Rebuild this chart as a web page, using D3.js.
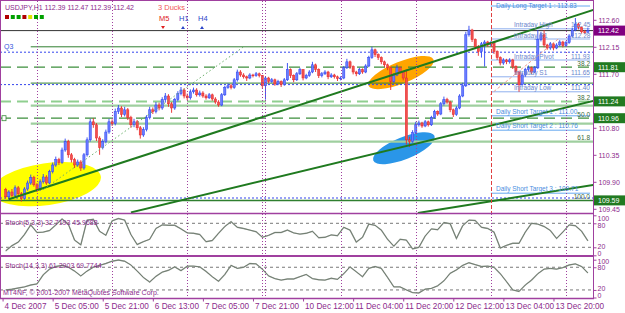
<!DOCTYPE html>
<html>
<head>
<meta charset="utf-8">
<script src="https://cdn.jsdelivr.net/npm/d3@7"></script>
<style>
  body { margin: 0; background: #fff; }
  svg { display: block; }
  text { font-family: "Liberation Sans", Arial, sans-serif; }
</style>
</head>
<body>
<svg id="chart" width="625" height="313"></svg>
<script>
// ---- bar data (USDJPY H1) ----
const opens = [
  109.77,109.65,109.73,109.67,109.80,109.70,109.62,109.78,109.88,109.97,
  109.85,109.77,109.90,109.98,109.88,110.07,110.18,110.27,110.22,110.43,
  110.57,110.35,110.27,110.18,110.23,110.13,110.35,110.60,110.90,110.85,
  110.63,110.47,110.57,110.73,110.90,110.87,111.07,111.13,111.02,111.10,
  110.97,110.85,110.90,110.80,110.68,110.77,110.97,111.10,111.07,111.18,
  111.13,111.27,111.33,111.20,111.13,111.27,111.37,111.43,111.33,111.30,
  111.40,111.43,111.35,111.38,111.33,111.30,111.35,111.28,111.23,111.18,
  111.35,111.47,111.50,111.47,111.60,111.73,111.68,111.65,111.63,111.68,
  111.67,111.70,111.67,111.50,111.63,111.57,111.60,111.53,111.57,111.52,
  111.60,111.77,111.67,111.60,111.70,111.77,111.63,111.67,111.73,111.85,
  111.77,111.67,111.70,111.73,111.65,111.68,111.65,111.62,111.63,111.80,
  111.90,111.82,111.73,111.70,111.77,111.73,111.83,111.97,112.10,112.02,
  111.97,111.90,111.85,111.80,111.57,111.68,111.80,111.73,111.63,110.60,
  110.57,110.72,110.85,110.88,110.83,110.90,110.85,110.97,111.07,111.03,
  111.20,111.27,111.23,111.10,111.02,111.13,111.33,111.50,112.35,112.43,
  112.27,112.15,112.07,112.20,112.23,112.18,112.22,112.07,111.97,111.88,
  111.93,111.90,111.93,111.82,111.73,111.52,111.68,111.77,111.80,111.73,
  111.80,112.27,112.35,112.18,112.13,112.20,112.13,112.18,112.23,112.17,
  112.22,112.33,112.43,112.53,112.47,112.40,112.39
];
const highs = [
  109.80,109.76,109.78,109.84,109.83,109.73,109.81,109.92,110.02,110.00,
  109.88,109.94,110.03,110.01,110.10,110.22,110.32,110.30,110.47,110.62,
  110.60,110.38,110.30,110.27,110.26,110.38,110.64,110.95,110.96,110.88,
  110.66,110.61,110.77,110.95,110.94,111.12,111.18,111.16,111.15,111.13,
  111.00,110.95,110.93,110.83,110.81,111.01,111.15,111.14,111.23,111.22,
  111.31,111.38,111.36,111.23,111.30,111.41,111.48,111.46,111.37,111.44,
  111.47,111.46,111.42,111.41,111.36,111.38,111.37,111.31,111.26,111.38,
  111.50,111.54,111.53,111.63,111.77,111.76,111.71,111.67,111.71,111.70,
  111.73,111.72,111.68,111.66,111.65,111.63,111.62,111.60,111.59,111.63,
  111.88,111.79,111.69,111.73,111.80,111.78,111.70,111.76,111.90,111.87,
  111.79,111.73,111.76,111.75,111.71,111.70,111.67,111.66,111.83,111.95,
  111.92,111.84,111.75,111.80,111.79,111.86,112.00,112.15,112.12,112.04,
  111.99,111.92,111.87,111.82,111.71,111.85,111.82,111.75,111.77,110.65,
  110.76,110.90,110.92,110.90,110.93,110.92,111.00,111.10,111.09,111.23,
  111.32,111.30,111.25,111.12,111.16,111.36,111.55,112.40,112.50,112.45,
  112.29,112.18,112.23,112.26,112.25,112.25,112.24,112.09,111.99,111.96,
  111.95,111.96,111.95,111.84,111.75,111.72,111.80,111.84,111.82,111.83,
  112.43,112.40,112.43,112.20,112.23,112.22,112.21,112.26,112.25,112.25,
  112.36,112.47,112.63,112.55,112.49,112.43,112.47
];
const lows = [
  109.62,109.60,109.64,109.65,109.66,109.57,109.60,109.75,109.85,109.82,
  109.73,109.75,109.87,109.85,109.86,110.04,110.15,110.18,110.20,110.40,
  110.30,110.22,110.13,110.15,110.08,110.10,110.32,110.57,110.80,110.58,
  110.35,110.44,110.54,110.70,110.83,110.84,111.03,110.98,110.99,110.93,
  110.80,110.81,110.76,110.62,110.65,110.74,110.94,111.03,111.04,111.09,
  111.10,111.22,111.15,111.05,111.10,111.24,111.34,111.29,111.26,111.27,
  111.37,111.32,111.32,111.30,111.27,111.28,111.25,111.20,111.15,111.16,
  111.33,111.45,111.44,111.45,111.57,111.65,111.62,111.58,111.61,111.64,
  111.65,111.64,111.45,111.27,111.54,111.55,111.50,111.51,111.48,111.50,
  111.58,111.63,111.56,111.58,111.68,111.59,111.61,111.65,111.71,111.73,
  111.63,111.64,111.68,111.61,111.63,111.62,111.58,111.59,111.61,111.78,
  111.78,111.69,111.66,111.68,111.70,111.71,111.81,111.95,111.98,111.93,
  111.86,111.81,111.76,111.43,111.55,111.66,111.70,111.59,110.52,110.48,
  110.55,110.70,110.82,110.80,110.81,110.82,110.83,110.95,111.00,111.01,
  111.17,111.20,111.06,110.98,111.00,111.11,111.31,111.48,112.32,112.23,
  112.11,112.00,111.97,111.82,112.15,112.16,112.03,111.93,111.84,111.85,
  111.86,111.87,111.78,111.68,111.40,111.50,111.65,111.74,111.70,111.71,
  111.78,112.24,112.14,112.10,112.10,112.09,112.11,112.16,112.14,112.15,
  112.20,112.31,112.41,112.44,112.37,112.36,112.39
];
const closes = [
  109.65,109.73,109.67,109.80,109.70,109.62,109.78,109.88,109.97,109.85,
  109.77,109.90,109.98,109.88,110.07,110.18,110.27,110.22,110.43,110.57,
  110.35,110.27,110.18,110.23,110.13,110.35,110.60,110.90,110.85,110.63,
  110.47,110.57,110.73,110.90,110.87,111.07,111.13,111.02,111.10,110.97,
  110.85,110.90,110.80,110.68,110.77,110.97,111.10,111.07,111.18,111.13,
  111.27,111.33,111.20,111.13,111.27,111.37,111.43,111.33,111.30,111.40,
  111.43,111.35,111.38,111.33,111.30,111.35,111.28,111.23,111.18,111.35,
  111.47,111.50,111.47,111.60,111.73,111.68,111.65,111.63,111.68,111.67,
  111.70,111.67,111.50,111.63,111.57,111.60,111.53,111.57,111.52,111.60,
  111.77,111.67,111.60,111.70,111.77,111.63,111.67,111.73,111.85,111.77,
  111.67,111.70,111.73,111.65,111.68,111.65,111.62,111.63,111.80,111.90,
  111.82,111.73,111.70,111.77,111.73,111.83,111.97,112.10,112.02,111.97,
  111.90,111.85,111.80,111.57,111.68,111.80,111.73,111.63,110.60,110.57,
  110.72,110.85,110.88,110.83,110.90,110.85,110.97,111.07,111.03,111.20,
  111.27,111.23,111.10,111.02,111.13,111.33,111.50,112.35,112.43,112.27,
  112.15,112.07,112.20,112.23,112.18,112.22,112.07,111.97,111.88,111.93,
  111.90,111.93,111.82,111.73,111.52,111.68,111.77,111.80,111.73,111.80,
  112.27,112.35,112.18,112.13,112.20,112.13,112.18,112.23,112.17,112.22,
  112.33,112.43,112.53,112.47,112.40,112.39,112.42
];

// stochastic main lines, one value every 2nd bar
const stoch5 = [
  11,24,33,52,76,57,58,62,76,91, 78,38,26,88,90,60,50,86,92,88,
  52,27,34,40,67,76,75,75,66,56, 55,52,34,37,55,72,84,70,67,63,
  59,45,50,57,57,63,56,53,55,60, 44,45,51,49,70,63,33,45,78,75,
  63,40,23,40,38,16,20,48,66,64, 82,79,42,74,88,87,70,67,58,18,
  25,30,30,58,80,78,72,62,42,58, 76,74,60,36
];
const stoch14 = [
  20,22,25,28,33,36,60,75,82,85, 80,70,57,70,80,85,90,96,99,96,
  86,70,53,41,56,67,72,81,71,83, 83,81,69,55,43,61,85,77,80,90,
  89,75,57,50,46,49,49,55,61,50, 47,46,51,48,63,81,68,55,77,82,
  77,53,28,28,20,13,12,22,24,31, 44,64,73,85,92,87,82,83,80,63,
  42,20,16,33,46,63,75,77,75,79, 86,89,82,65
];
const stochLevels = [80, 20];
const stochTicks = [100, 80, 20, 0];

// axes
const priceTicks = [112.60, 112.15, 111.70, 111.25, 110.80, 110.35, 109.90, 109.45];
const timeTickBars = [-1, 15, 31, 47, 63, 79, 95, 111, 127, 143, 159, 175];
const timeLabels = ["4 Dec 2007", "5 Dec 05:00", "5 Dec 21:00", "6 Dec 13:00", "7 Dec 05:00",
  "7 Dec 21:00", "10 Dec 12:00", "11 Dec 04:00", "11 Dec 20:00", "12 Dec 12:00",
  "13 Dec 04:00", "13 Dec 20:00"];
const daySeparators = [10, 34, 58, 82, 83, 107, 131, 155, 179];
const todayBar = 155;

// levels drawn on the chart
const currentPrice = 112.42;
const markedLevels = [111.81, 111.24, 110.96, 109.59];
const dashLevels = [111.81, 111.24, 110.96];
const thinLevels = [112.15, 111.545];
const thickLevels = [111.17, 110.87, 110.57];
const baseLevel = 109.59;
const dottedLevels = [112.06, 111.52, 109.63];
const intradayNames = ["Intraday High", "Intraday R1", "Intraday Pivot", "Intraday S1", "Intraday Low"];
const intradayPrices = [112.45, 112.28, 111.93, 111.65, 111.40];
const targetNames = ["Daily Long Target 1", "Daily Short Target 1", "Daily Short Target 2", "Daily Short Target 3"];
const targetPrices = [112.83, 111.00, 110.76, 109.71];
const fiboNames = ["38.2", "38.2", "50.0", "61.8", "100.0"];
const fiboPrices = [111.80, 111.24, 110.96, 110.57, 109.59];

// trend lines [bar0, price0, bar1, price1]
const trendLines = [[1, 109.61, 188, 112.77], [40, 109.39, 188, 111.25], [131.7, 109.38, 188, 109.85]];
const dottedTrend = [12, 109.77, 76, 112.15];
const pinkTrend = [154.7, 111.35, 177, 112.30];
// ellipses [bar, price]
const ellipseCenters = [[13, 109.86], [126.3, 111.72], [127.2, 110.46]];

// ---- layout ----
const svg = d3.select("#chart");
const plotRight = 593;
const purple = "#a0409f";
const textPurple = "#8c2a8c";

const x = d3.scaleLinear().domain([0, closes.length - 1]).range([5.7, 587.9]);
const y = d3.scaleLinear().domain([109.38, 112.93]).range([213, 0]);
const yS1 = d3.scaleLinear().domain([0, 100]).range([255.3, 215.3]);
const yS2 = d3.scaleLinear().domain([0, 100]).range([297.5, 259.7]);

const defs = svg.append("defs");
defs.append("clipPath").attr("id", "clipMain").append("rect")
  .attr("x", 1).attr("y", 1).attr("width", plotRight - 1).attr("height", 212);
defs.append("clipPath").attr("id", "clipS").append("rect")
  .attr("x", 1).attr("y", 214).attr("width", plotRight - 1).attr("height", 84);

svg.append("rect").attr("width", 625).attr("height", 313).attr("fill", "#fff");

const main = svg.append("g").attr("clip-path", "url(#clipMain)");

// ellipses
const ellStyle = [
  { rx: 55, ry: 21, rot: -8, fill: "#ffff00" },
  { rx: 35, ry: 11, rot: -22, fill: "#ffa500" },
  { rx: 33, ry: 11, rot: -22, fill: "#2a96e8" }
];
ellipseCenters.forEach((c, i) => {
  const s = ellStyle[i];
  main.append("ellipse")
    .attr("transform", `translate(${x(c[0])},${y(c[1])}) rotate(${s.rot})`)
    .attr("rx", s.rx).attr("ry", s.ry).attr("fill", s.fill);
});

// horizontal levels
const fiboStart = x(8);
main.selectAll(".thick").data(thickLevels).enter().append("line")
  .attr("x1", fiboStart).attr("x2", plotRight)
  .attr("y1", d => y(d)).attr("y2", d => y(d))
  .attr("stroke", "#9fcf9f").attr("stroke-width", 2.2);
main.selectAll(".thin").data(thinLevels).enter().append("line")
  .attr("x1", fiboStart).attr("x2", plotRight)
  .attr("y1", d => y(d)).attr("y2", d => y(d))
  .attr("stroke", "#2f7f2f").attr("stroke-width", 1);
main.selectAll(".dash").data(dashLevels).enter().append("line")
  .attr("x1", 0).attr("x2", plotRight)
  .attr("y1", d => y(d)).attr("y2", d => y(d))
  .attr("stroke", (d, i) => i === 1 ? "#8fcf8f" : "#3c8f3c")
  .attr("stroke-width", (d, i) => i === 1 ? 2 : 1.2)
  .attr("stroke-dasharray", "11,6");
main.selectAll(".dot").data(dottedLevels).enter().append("line")
  .attr("x1", 0).attr("x2", plotRight)
  .attr("y1", d => y(d)).attr("y2", d => y(d))
  .attr("stroke", "#3344ee").attr("stroke-width", 1)
  .attr("stroke-dasharray", "2,2");
main.append("line").attr("x1", 0).attr("x2", plotRight)
  .attr("y1", y(baseLevel)).attr("y2", y(baseLevel))
  .attr("stroke", "#2f7f2f").attr("stroke-width", 1.5);

// intraday and daily target lines (today only)
const dayX = x(todayBar);
main.selectAll(".intra").data(intradayPrices).enter().append("line")
  .attr("x1", dayX).attr("x2", plotRight - 3)
  .attr("y1", d => y(d)).attr("y2", d => y(d))
  .attr("stroke", "#8fb0ee").attr("stroke-width", 1);
main.selectAll(".target").data(targetPrices).enter().append("line")
  .attr("x1", dayX).attr("x2", plotRight - 3)
  .attr("y1", d => y(d)).attr("y2", d => y(d))
  .attr("stroke", "#66a8f0").attr("stroke-width", 1);

// current price line
main.append("line").attr("x1", 0).attr("x2", plotRight)
  .attr("y1", y(currentPrice)).attr("y2", y(currentPrice))
  .attr("stroke", "#333").attr("stroke-width", 1);

// day separators
const sepG = svg.append("g");
daySeparators.forEach(b => {
  const xx = Math.round(x(b)) + 0.5;
  sepG.append("line").attr("x1", xx).attr("x2", xx).attr("y1", 1).attr("y2", 213)
    .attr("stroke", b === todayBar ? "#e04040" : purple)
    .attr("stroke-dasharray", b === todayBar ? "4,2" : "1,2");
  sepG.append("line").attr("x1", xx).attr("x2", xx).attr("y1", 214).attr("y2", 298)
    .attr("stroke", purple).attr("stroke-dasharray", "1,2");
});

// candles
const candles = main.append("g");
closes.forEach((c, i) => {
  const o = opens[i];
  const col = c > o ? "#2c44f0" : (c < o ? "#e82828" : "#222");
  const cx = x(i);
  candles.append("line").attr("x1", cx).attr("x2", cx)
    .attr("y1", y(highs[i])).attr("y2", y(lows[i]))
    .attr("stroke", col).attr("stroke-width", 0.9);
  const top = y(Math.max(o, c)), bot = y(Math.min(o, c));
  candles.append("rect").attr("x", cx - 1.1).attr("width", 2.2)
    .attr("y", top).attr("height", Math.max(bot - top, 0.8))
    .attr("fill", c > o ? "#6a7cff" : (c < o ? "#f05050" : "#222"))
    .attr("stroke", col).attr("stroke-width", 0.5);
});

// trend lines
trendLines.forEach(t => {
  main.append("line").attr("x1", x(t[0])).attr("y1", y(t[1]))
    .attr("x2", x(t[2])).attr("y2", y(t[3]))
    .attr("stroke", "#1f7a1f").attr("stroke-width", 2);
});
main.append("line").attr("x1", x(dottedTrend[0])).attr("y1", y(dottedTrend[1]))
  .attr("x2", x(dottedTrend[2])).attr("y2", y(dottedTrend[3]))
  .attr("stroke", "#6ab06a").attr("stroke-dasharray", "1.5,2.5");
main.append("line").attr("x1", x(pinkTrend[0])).attr("y1", y(pinkTrend[1]))
  .attr("x2", x(pinkTrend[2])).attr("y2", y(pinkTrend[3]))
  .attr("stroke", "#f0a090").attr("stroke-dasharray", "3,2");

// level labels
const lbl = svg.append("g").attr("font-size", "6.5px");
intradayNames.forEach((n, i) => {
  lbl.append("text").attr("x", 514).attr("y", y(intradayPrices[i]) - 1.5)
    .attr("fill", "#6a86cc").text(n);
  lbl.append("text").attr("x", 571).attr("y", y(intradayPrices[i]) - 1.5)
    .attr("fill", "#6a86cc").text(intradayPrices[i].toFixed(2));
});
targetNames.forEach((n, i) => {
  lbl.append("text").attr("x", 496).attr("y", Math.max(y(targetPrices[i]) - 2, 7.5))
    .attr("fill", "#4a8ee0").text(n + " : " + targetPrices[i].toFixed(2));
});
fiboNames.forEach((n, i) => {
  lbl.append("text").attr("x", 590).attr("y", y(fiboPrices[i]) - 1.5)
    .attr("text-anchor", "end").attr("fill", "#3a6a3a").text(n);
});
svg.append("text").attr("x", 4).attr("y", 49).attr("font-size", "7px")
  .attr("fill", "#3355dd").text("Q3");
svg.append("rect").attr("x", 2).attr("y", y(110.96) - 2.5).attr("width", 4).attr("height", 5)
  .attr("fill", "#fff").attr("stroke", "#3a8a3a").attr("stroke-width", 0.8);

// top-left info
svg.append("text").attr("x", 5).attr("y", 10).attr("font-size", "7px")
  .attr("fill", textPurple).text("USDJPY,H1  112.39 112.47 112.39 112.42");
const squareColors = ["#b00000", "#00a000", "#00a000", "#b00000", "#e0e000", "#00a000", "#00a000"];
squareColors.forEach((c, i) => {
  svg.append("rect").attr("x", 5 + i * 5.8).attr("y", 15).attr("width", 4).attr("height", 4).attr("fill", c);
});
svg.append("text").attr("x", 158).attr("y", 10).attr("font-size", "7.5px")
  .attr("fill", "#f05a5a").text("3 Ducks");
[["M5", 159, "#e02020", false], ["H1", 179, "#2a44c8", true], ["H4", 198, "#2a44c8", true]].forEach(d => {
  svg.append("text").attr("x", d[1]).attr("y", 21).attr("font-size", "7.5px").attr("fill", d[2]).text(d[0]);
  const cx = d[1] + 4;
  const pts = d[3] ? [[cx - 2, 29], [cx + 2, 29], [cx, 26]] : [[cx - 2, 26], [cx + 2, 26], [cx, 29]];
  svg.append("polygon").attr("points", pts.map(p => p.join(",")).join(" ")).attr("fill", d[2]);
});

// stochastic panels
const sG = svg.append("g").attr("clip-path", "url(#clipS)");
[[yS1, stoch5], [yS2, stoch14]].forEach(([ys, data]) => {
  stochLevels.forEach(l => {
    sG.append("line").attr("x1", 0).attr("x2", plotRight)
      .attr("y1", ys(l)).attr("y2", ys(l))
      .attr("stroke", "#555").attr("stroke-width", 0.8).attr("stroke-dasharray", "3,3");
  });
  const line = d3.line().x((d, k) => x(2 * k)).y(d => ys(d));
  sG.append("path").datum(data).attr("d", line)
    .attr("fill", "none").attr("stroke", "#a4aaa4").attr("stroke-width", 1.4);
  sG.append("path").datum(data).attr("d", line)
    .attr("fill", "none").attr("stroke", "#4f5f4f").attr("stroke-width", 0.6);
});
svg.append("text").attr("x", 5).attr("y", 225).attr("font-size", "7px")
  .attr("fill", textPurple).text("Stoch(5,3,3) 32.7193 45.9688");
svg.append("text").attr("x", 5).attr("y", 268).attr("font-size", "7px")
  .attr("fill", textPurple).text("Stoch(14,3,3) 61.2903 69.7744");
svg.append("text").attr("x", 3).attr("y", 295).attr("font-size", "7px")
  .attr("fill", textPurple).text("MT4NF, \u00a9 2001-2007 MetaQuotes Software Corp.");

// frames
const frame = svg.append("g").attr("stroke", purple).attr("fill", "none");
frame.append("line").attr("x1", 0.5).attr("x2", 0.5).attr("y1", 0).attr("y2", 298);
frame.append("line").attr("x1", 0).attr("x2", plotRight).attr("y1", 0.5).attr("y2", 0.5);
frame.append("line").attr("x1", plotRight + 0.5).attr("x2", plotRight + 0.5).attr("y1", 0).attr("y2", 298);
[213.5, 256, 298.5].forEach(v => {
  frame.append("line").attr("x1", 0).attr("x2", plotRight + 1).attr("y1", v).attr("y2", v)
    .attr("stroke-width", v === 256 ? 2 : 1.6);
});

// right price axis
const yAxis = d3.axisRight(y).tickValues(priceTicks).tickFormat(d3.format(".2f")).tickSize(3);
const yg = svg.append("g").attr("transform", `translate(${plotRight + 0.5},0)`).call(yAxis);
yg.select(".domain").remove();
yg.selectAll("line").attr("stroke", purple);
yg.selectAll("text").attr("fill", textPurple).attr("font-size", "7px")
  .attr("font-family", "Liberation Sans, Arial, sans-serif").attr("x", 5);

// price marker boxes
const boxes = [{ p: currentPrice, c: "#800080" }].concat(markedLevels.map(p => ({ p, c: "#217a21" })));
boxes.forEach(b => {
  svg.append("rect").attr("x", plotRight + 1).attr("y", y(b.p) - 5).attr("width", 31).attr("height", 10)
    .attr("fill", b.c);
  svg.append("text").attr("x", plotRight + 5).attr("y", y(b.p) + 2.6).attr("font-size", "7px")
    .attr("fill", "#fff").text(b.p.toFixed(2));
});

// stochastic axes: labels nudged to stay inside their own panel
const stochLabelShift = [
  { 100: 4.7, 80: 4.2, 20: 1.2, 0: 0.2 },
  { 100: 3.3, 80: 2.7, 20: 0.1, 0: -0.5 }
];
[yS1, yS2].forEach((ys, p) => {
  const ax = d3.axisRight(ys).tickValues(stochTicks).tickFormat(d3.format("d")).tickSize(3);
  const g = svg.append("g").attr("transform", `translate(${plotRight + 0.5},0)`).call(ax);
  g.select(".domain").remove();
  g.selectAll("line").attr("stroke", purple);
  g.selectAll("text").attr("fill", textPurple).attr("font-size", "7px")
    .attr("font-family", "Liberation Sans, Arial, sans-serif").attr("x", 4)
    .attr("dy", 0).attr("y", d => stochLabelShift[p][d]);
});

// time axis
const xAxis = d3.axisBottom(x).tickValues(timeTickBars)
  .tickFormat((d, i) => timeLabels[i]).tickSize(3);
const xg = svg.append("g").attr("transform", "translate(0,298.5)").call(xAxis);
xg.select(".domain").remove();
xg.selectAll("line").attr("stroke", purple);
xg.selectAll("text").attr("fill", textPurple).attr("font-size", "8.2px")
  .attr("font-family", "Liberation Sans, Arial, sans-serif")
  .attr("text-anchor", "start").attr("x", 1.5).attr("dy", "0.6em");
</script>
</body>
</html>
